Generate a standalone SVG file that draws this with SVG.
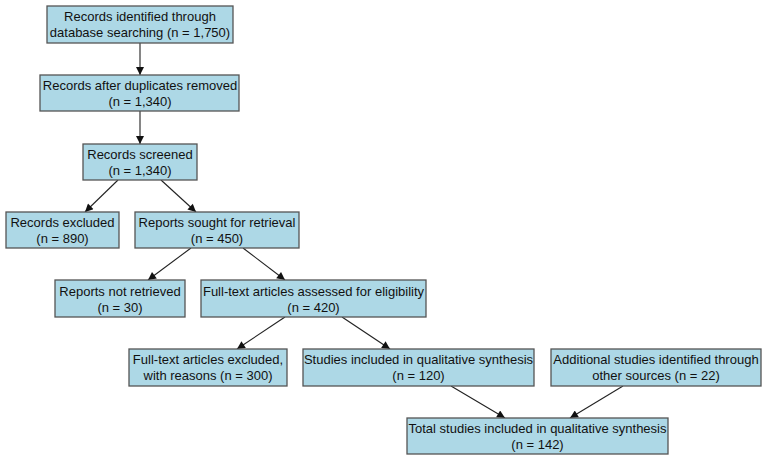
<svg xmlns="http://www.w3.org/2000/svg" width="767" height="461" viewBox="0 0 767 461">
<defs>
<style>
.box{fill:#add8e6;stroke:#555;stroke-width:1.3}
text{font-family:"Liberation Sans",Arial,sans-serif;font-size:13px;fill:#111;text-anchor:middle}
.edge{stroke:#222;stroke-width:1.1;fill:none;marker-end:url(#ah)}
</style>
<marker id="ah" viewBox="0 0 10 10" refX="10" refY="5" markerWidth="10" markerHeight="8" markerUnits="userSpaceOnUse" orient="auto">
<path d="M0,0 L10,5 L0,10 z" fill="#111"/>
</marker>
</defs>
<rect width="767" height="461" fill="#fff"/>
<g id="connectors">
<line class="edge" x1="140" y1="43" x2="140" y2="75"/>
<line class="edge" x1="140" y1="111" x2="140" y2="144"/>
<line class="edge" x1="118" y1="180" x2="85" y2="212"/>
<line class="edge" x1="161" y1="180" x2="196" y2="212"/>
<line class="edge" x1="191" y1="248" x2="148" y2="280"/>
<line class="edge" x1="243" y1="248" x2="285" y2="280"/>
<line class="edge" x1="285" y1="317" x2="237" y2="349"/>
<line class="edge" x1="342" y1="317" x2="390" y2="349"/>
<line class="edge" x1="451" y1="386" x2="505" y2="418"/>
<line class="edge" x1="623" y1="386" x2="570" y2="418"/>
</g>
<g id="n1"><rect class="box" x="47" y="6" width="186" height="37"/><text x="140" y="21">Records identified through</text><text x="140" y="37">database searching (n = 1,750)</text></g>
<g id="n2"><rect class="box" x="40" y="75" width="199" height="36"/><text x="140" y="90">Records after duplicates removed</text><text x="140" y="106">(n = 1,340)</text></g>
<g id="n3"><rect class="box" x="83" y="144" width="114" height="36"/><text x="140" y="159">Records screened</text><text x="140" y="175">(n = 1,340)</text></g>
<g id="n4"><rect class="box" x="6" y="212" width="113" height="36"/><text x="62.5" y="227">Records excluded</text><text x="62.5" y="243">(n = 890)</text></g>
<g id="n5"><rect class="box" x="135" y="212" width="164" height="36"/><text x="217" y="227">Reports sought for retrieval</text><text x="217" y="243">(n = 450)</text></g>
<g id="n6"><rect class="box" x="55" y="280" width="130" height="37"/><text x="120" y="296">Reports not retrieved</text><text x="120" y="312">(n = 30)</text></g>
<g id="n7"><rect class="box" x="201" y="280" width="225" height="37"/><text x="313.5" y="296">Full-text articles assessed for eligibility</text><text x="313.5" y="312">(n = 420)</text></g>
<g id="n8"><rect class="box" x="129" y="349" width="158" height="37"/><text x="208" y="364">Full-text articles excluded,</text><text x="208" y="380">with reasons (n = 300)</text></g>
<g id="n9"><rect class="box" x="303" y="349" width="231" height="37"/><text x="418.5" y="364">Studies included in qualitative synthesis</text><text x="418.5" y="380">(n = 120)</text></g>
<g id="n10"><rect class="box" x="551" y="349" width="210" height="37"/><text x="656" y="364">Additional studies identified through</text><text x="656" y="380">other sources (n = 22)</text></g>
<g id="n11"><rect class="box" x="407" y="418" width="261" height="36"/><text x="537.5" y="433">Total studies included in qualitative synthesis</text><text x="537.5" y="449">(n = 142)</text></g>
</svg>
